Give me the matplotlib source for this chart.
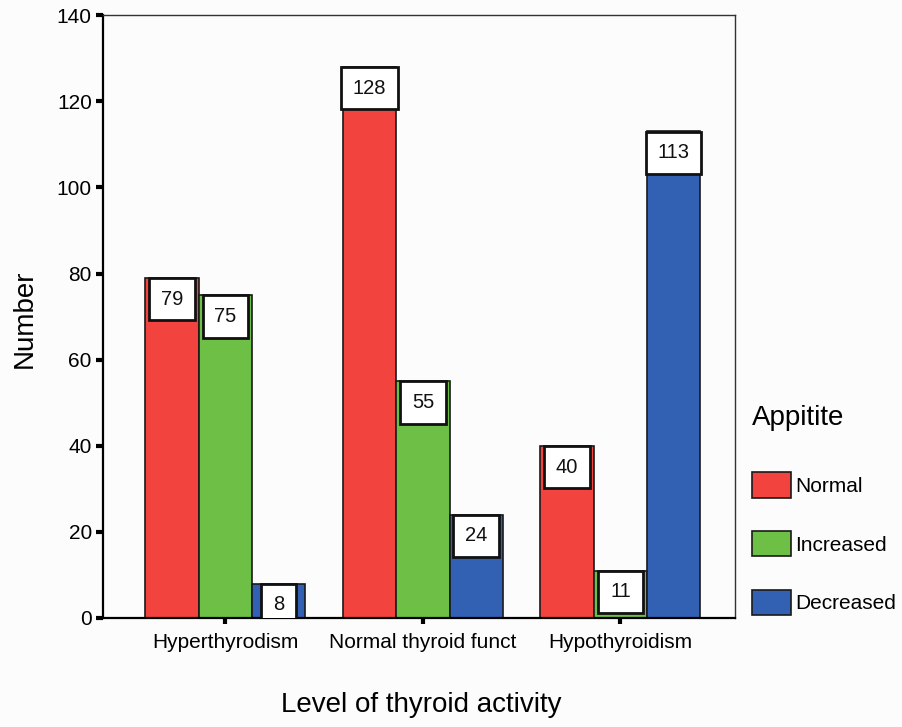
import matplotlib
matplotlib.use("Agg")
import matplotlib.pyplot as plt
import numpy as np

plt.rcParams['font.family'] = ['Liberation Sans', 'DejaVu Sans']

# thyroid activity groups and appetite counts
groups = ["Hyperthyrodism", "Normal thyroid funct", "Hypothyroidism"]
appetite = ["Normal", "Increased", "Decreased"]
normal = [79, 128, 40]
increased = [75, 55, 11]
decreased = [8, 24, 113]
colors = ["#f2433f", "#6dbf46", "#3260b2"]

fig = plt.figure(figsize=(9.03, 7.27), dpi=100)
fig.patch.set_facecolor("#fcfcfc")
ax = fig.add_axes([0.114, 0.150, 0.700, 0.829])
ax.set_facecolor("#fcfcfc")

x = np.arange(len(groups))
width = 0.27
offsets = [-width, 0, width]

for series, name, off, col in zip([normal, increased, decreased], appetite, offsets, colors):
    bars = ax.bar(x + off, series, width, color=col, edgecolor="#1a1a1a",
                  linewidth=1.2, label=name, zorder=2)
    # value boxes sitting at the top of each bar, cut off at the axis line
    for b, v in zip(bars, series):
        t = ax.annotate(str(v), (b.get_x() + b.get_width() / 2, v),
                        xytext=(0, -8.5), textcoords="offset points",
                        ha="center", va="top", fontsize=14.5, color="#111111", zorder=4,
                        bbox=dict(boxstyle="square,pad=0.58", fc="white",
                                  ec="#111111", lw=2.0))
        t.set_clip_box(ax.bbox)
        t.get_bbox_patch().set_clip_box(ax.bbox)
        t.get_bbox_patch().set_clip_on(True)

ax.set_xlim(-0.62, 2.58)
ax.set_ylim(0, 140)
ax.set_yticks(range(0, 141, 20))
ax.set_xticks(x)
ax.set_xticklabels(groups, fontsize=15)
ax.tick_params(axis="y", labelsize=15, length=5, width=3, direction="out", pad=3)
ax.tick_params(axis="x", length=4, width=3, direction="out", pad=7)

for side in ["left", "bottom"]:
    ax.spines[side].set_linewidth(1.6)
for side in ["top", "right"]:
    ax.spines[side].set_linewidth(1.0)
    ax.spines[side].set_color("#333333")

ax.set_ylabel("Number", fontsize=20)
ax.yaxis.set_label_coords(-0.103, 0.497)
fig.text(0.467, 0.030, "Level of thyroid activity", fontsize=20, ha="center", va="center")

leg = ax.legend(loc="upper left", bbox_to_anchor=(0.824, 0.455),
                bbox_transform=fig.transFigure, frameon=False,
                title="Appitite", title_fontsize=20, fontsize=15,
                handlelength=1.85, handleheight=1.5, labelspacing=1.6,
                handletextpad=0.2, borderaxespad=0)
leg._legend_box.align = "left"
leg._legend_box.sep = 30

fig.savefig("out.png", dpi=100, facecolor=fig.get_facecolor())
